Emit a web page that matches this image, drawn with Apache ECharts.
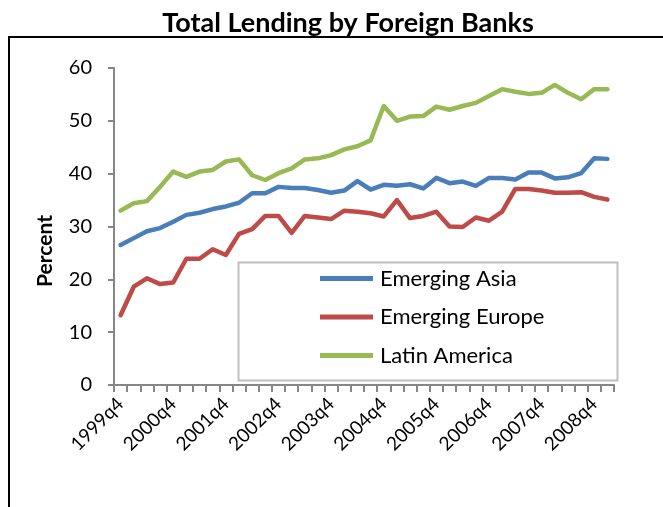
<!DOCTYPE html>
<html>
<head>
<meta charset="utf-8">
<script src="https://cdn.jsdelivr.net/npm/echarts@6/dist/echarts.min.js"></script>
<style>
  html, body { margin: 0; padding: 0; background: #fff; }
  #chart { width: 663px; height: 507px; }
</style>
</head>
<body>
<div id="chart"></div>
<script>
// Quarterly periods, 1999q4 through 2009q1
const categories = [
  '1999q4',
  '2000q1', '2000q2', '2000q3', '2000q4',
  '2001q1', '2001q2', '2001q3', '2001q4',
  '2002q1', '2002q2', '2002q3', '2002q4',
  '2003q1', '2003q2', '2003q3', '2003q4',
  '2004q1', '2004q2', '2004q3', '2004q4',
  '2005q1', '2005q2', '2005q3', '2005q4',
  '2006q1', '2006q2', '2006q3', '2006q4',
  '2007q1', '2007q2', '2007q3', '2007q4',
  '2008q1', '2008q2', '2008q3', '2008q4',
  '2009q1'
];

// Share of total lending by foreign banks, percent
const emergingAsia = [
  26.5, 27.8, 29.1, 29.7, 30.9, 32.2, 32.6, 33.3, 33.8, 34.5,
  36.3, 36.3, 37.5, 37.3, 37.3, 36.9, 36.4, 36.8, 38.6, 37.0,
  37.9, 37.7, 38.0, 37.2, 39.2, 38.2, 38.5, 37.7, 39.2, 39.2,
  38.9, 40.2, 40.2, 39.1, 39.3, 40.1, 42.9, 42.8
];
const emergingEurope = [
  13.2, 18.6, 20.2, 19.1, 19.4, 23.9, 23.9, 25.7, 24.6, 28.6,
  29.5, 32.0, 32.0, 28.8, 32.0, 31.7, 31.4, 33.0, 32.8, 32.5,
  31.9, 35.0, 31.6, 32.0, 32.8, 30.0, 29.9, 31.7, 31.1, 32.8,
  37.1, 37.1, 36.8, 36.4, 36.4, 36.5, 35.6, 35.1
];
const latinAmerica = [
  33.0, 34.4, 34.8, 37.5, 40.4, 39.4, 40.4, 40.7, 42.3, 42.7,
  39.7, 38.8, 40.1, 41.0, 42.7, 42.9, 43.5, 44.6, 45.2, 46.3,
  52.8, 50.0, 50.8, 50.9, 52.7, 52.1, 52.8, 53.4, 54.7, 56.0,
  55.5, 55.1, 55.3, 56.8, 55.3, 54.1, 56.0, 56.0
];

const seriesNames = ['Emerging Asia', 'Emerging Europe', 'Latin America'];
const seriesColors = ['#4A7EBB', '#BE4B48', '#98B954'];
const seriesValues = [emergingAsia, emergingEurope, latinAmerica];

const FONT = 'Lato, "Open Sans", sans-serif';
const AXIS_GRAY = '#868686';

const chart = echarts.init(document.getElementById('chart'), null, { renderer: 'canvas' });

chart.setOption({
  animation: false,
  backgroundColor: '#ffffff',
  title: {
    text: 'Total Lending by Foreign Banks',
    left: 343,
    top: 5,
    textAlign: 'center',
    textStyle: { fontFamily: FONT, fontSize: 27, fontWeight: 'bold', color: '#000' }
  },
  graphic: [
    // outer chart frame, runs off the right and bottom edges
    {
      type: 'rect',
      silent: true,
      z: -10,
      shape: { x: 9, y: 37, width: 700, height: 600 },
      style: { fill: 'none', stroke: '#000', lineWidth: 2 }
    },
    // legend box
    {
      type: 'rect',
      silent: true,
      z: 1,
      shape: { x: 238.5, y: 262.5, width: 379, height: 118 },
      style: { fill: '#fff', stroke: '#BFBFBF', lineWidth: 2 }
    },
    // y-axis title
    {
      type: 'text',
      silent: true,
      x: 45,
      y: 251,
      rotation: Math.PI / 2,
      style: {
        text: 'Percent',
        fontFamily: FONT,
        fontSize: 21,
        fontWeight: 'bold',
        fill: '#000',
        align: 'center',
        verticalAlign: 'middle'
      }
    }
  ],
  legend: {
    orient: 'vertical',
    left: 320,
    top: 267,
    padding: 0,
    itemGap: 15.5,
    itemWidth: 53,
    itemHeight: 5,
    icon: 'rect',
    z: 5,
    textStyle: { fontFamily: FONT, fontSize: 22, lineHeight: 23, color: '#000', padding: [0, 0, 0, 2] },
    data: seriesNames
  },
  grid: { left: 114, right: 49, top: 68, bottom: 122, containLabel: false },
  xAxis: {
    type: 'category',
    data: categories,
    boundaryGap: true,
    axisLine: { lineStyle: { color: AXIS_GRAY, width: 2 } },
    axisTick: { show: true, interval: 0, length: 7, inside: false, lineStyle: { color: AXIS_GRAY, width: 2 } },
    axisLabel: {
      interval: 3,
      rotate: 45,
      margin: 16,
      fontFamily: FONT,
      fontSize: 19,
      color: '#000'
    },
    splitLine: { show: false }
  },
  yAxis: {
    type: 'value',
    min: 0,
    max: 60,
    interval: 10,
    axisLine: { show: true, lineStyle: { color: AXIS_GRAY, width: 2 } },
    axisTick: { show: true, length: 6, lineStyle: { color: AXIS_GRAY, width: 2 } },
    axisLabel: { margin: 22, fontFamily: FONT, fontSize: 20, color: '#000' },
    splitLine: { show: false }
  },
  series: seriesNames.map((name, i) => ({
    name: name,
    type: 'line',
    data: seriesValues[i],
    color: seriesColors[i],
    showSymbol: false,
    symbol: 'none',
    lineStyle: { width: 4.5, color: seriesColors[i], join: 'round', cap: 'round' },
    z: 2
  }))
});
</script>
</body>
</html>
